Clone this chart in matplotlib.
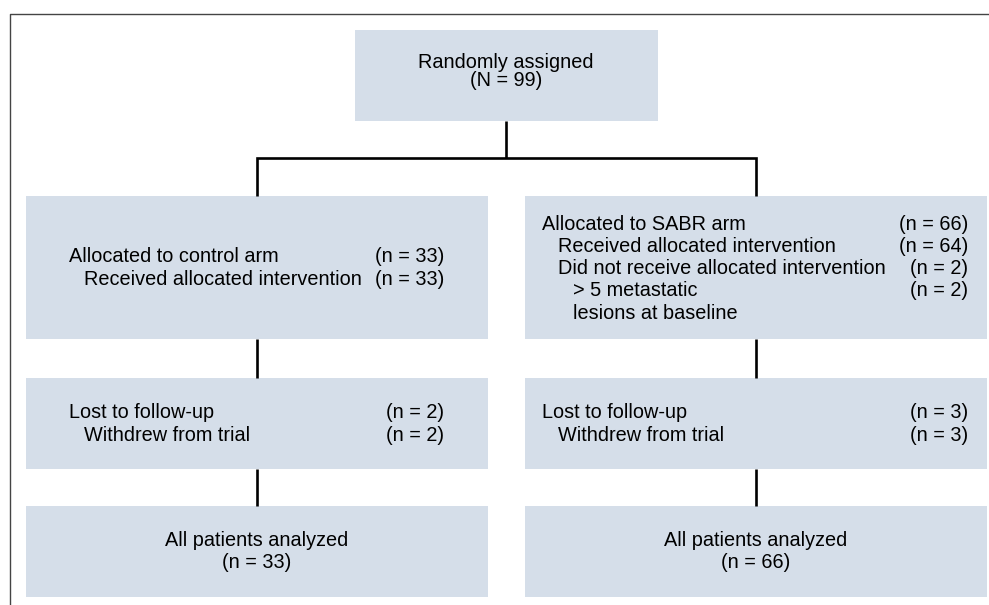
import matplotlib
matplotlib.use('Agg')
import matplotlib.pyplot as plt
from matplotlib.patches import Rectangle

plt.rcParams['font.family'] = ['Liberation Sans', 'DejaVu Sans']

# flow chart content
top_label = 'Randomly assigned'
top_n = 99

control_alloc = [('Allocated to control arm', 33, 0),
                 ('Received allocated intervention', 33, 1)]
sabr_alloc = [('Allocated to SABR arm', 66, 0),
              ('Received allocated intervention', 64, 1),
              ('Did not receive allocated intervention', 2, 1),
              ('> 5 metastatic', 2, 2),
              ('lesions at baseline', None, 2)]

control_follow = [('Lost to follow-up', 2, 0), ('Withdrew from trial', 2, 1)]
sabr_follow = [('Lost to follow-up', 3, 0), ('Withdrew from trial', 3, 1)]

analyzed_label = 'All patients analyzed'
control_analyzed = 33
sabr_analyzed = 66

fill = '#d5dee9'
fs = 14.3

fig = plt.figure(figsize=(9.89, 6.05), dpi=100)
ax = fig.add_axes([0, 0, 1, 1])
ax.set_xlim(0, 989)
ax.set_ylim(605, 0)
ax.axis('off')

# outer frame (only top and left edges visible)
ax.plot([10, 10, 995], [610, 14, 14], color='#444444', lw=1.0)


def box(x0, y0, x1, y1):
    ax.add_patch(Rectangle((x0, y0), x1 - x0, y1 - y0, facecolor=fill, edgecolor='none'))


def line(xs, ys):
    ax.plot(xs, ys, color='black', lw=1.9, solid_capstyle='butt', solid_joinstyle='miter')


# boxes
box(355, 30, 658, 121)
for (lx0, lx1) in [(26, 488), (525, 987)]:
    box(lx0, 196, lx1, 339)
    box(lx0, 378, lx1, 469)
    box(lx0, 506, lx1, 597)

# connectors
line([506, 506], [121, 158])
line([257, 257, 756, 756], [196, 158, 158, 196])
for cx in [257, 756]:
    line([cx, cx], [339, 378])
    line([cx, cx], [469, 506])

# top box text
ax.text(506, 63, top_label, ha='center', va='center', fontsize=fs)
ax.text(506, 81, f'(N = {top_n})', ha='center', va='center', fontsize=fs)


def listing(rows, x, xr, y0, step=22.3):
    for i, (lab, n, ind) in enumerate(rows):
        y = y0 + i * step
        ax.text(x + ind * 15.5, y, lab, ha='left', va='center', fontsize=fs)
        if n is not None:
            ax.text(xr, y, f'(n = {n})', ha='right', va='center', fontsize=fs)


listing(control_alloc, 69, 444, 257)
listing(sabr_alloc, 542, 968, 224)
listing(control_follow, 69, 444, 413)
listing(sabr_follow, 542, 968, 413)

for cx, n in [(257, control_analyzed), (756, sabr_analyzed)]:
    ax.text(cx, 540, analyzed_label, ha='center', va='center', fontsize=fs)
    ax.text(cx, 563, f'(n = {n})', ha='center', va='center', fontsize=fs)

fig.savefig('out.png', dpi=100)
